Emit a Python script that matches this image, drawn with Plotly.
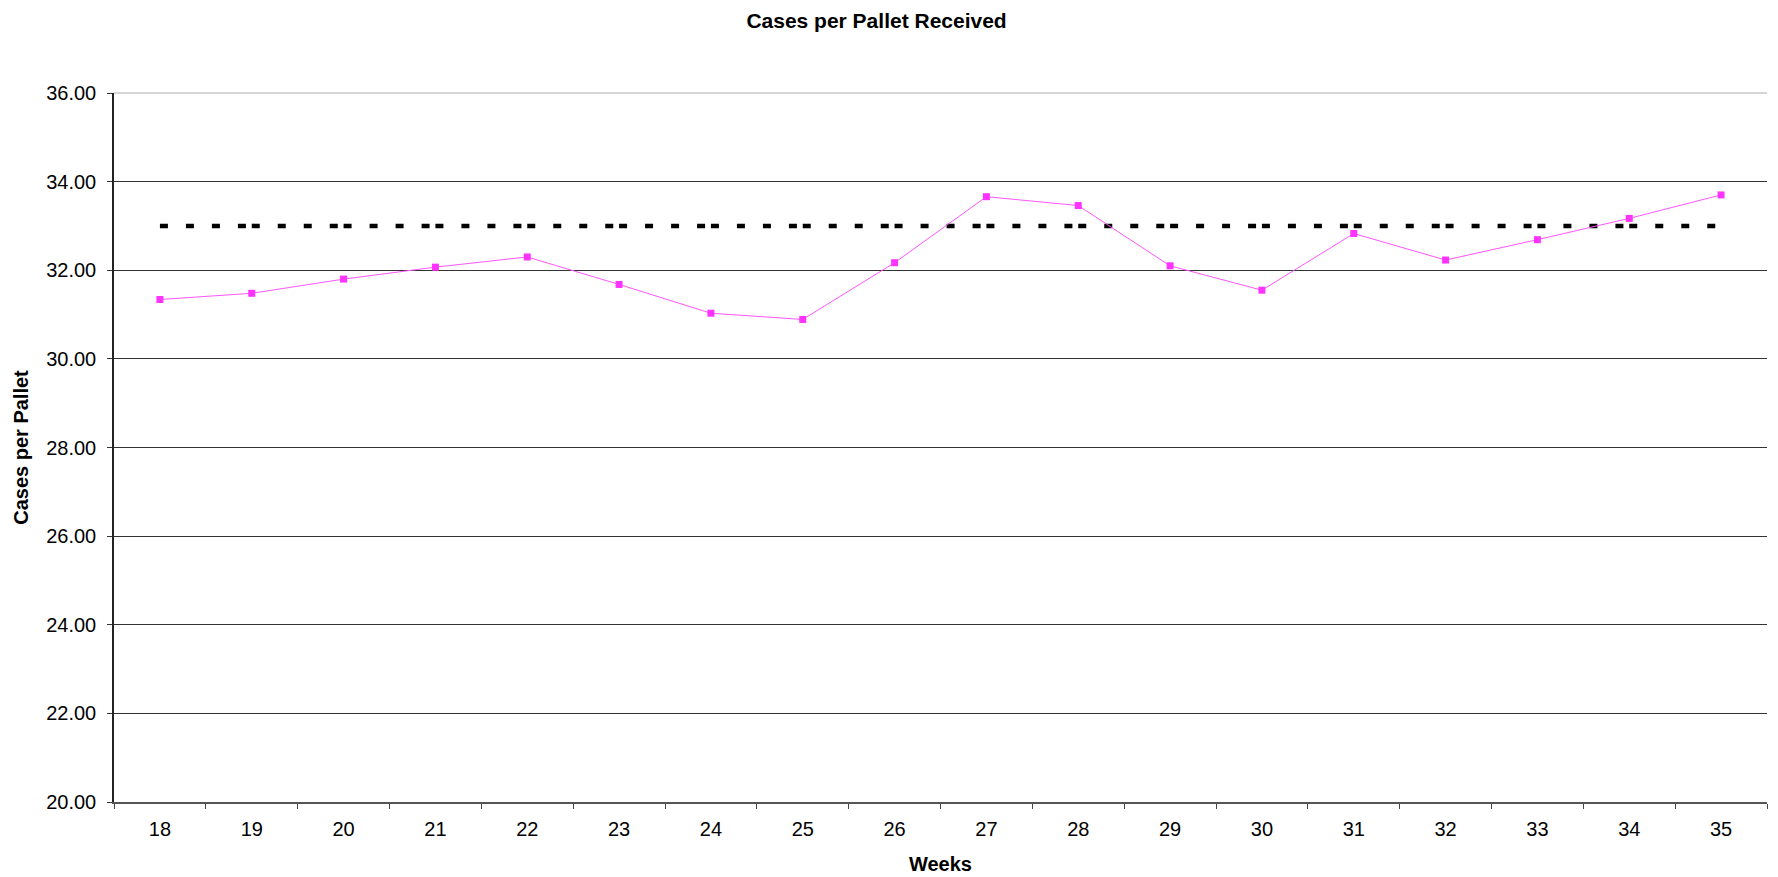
import plotly.graph_objects as go

weeks = ["18", "19", "20", "21", "22", "23", "24", "25", "26", "27", "28", "29", "30", "31", "32", "33", "34", "35"]
cases_per_pallet = [31.34, 31.48, 31.80, 32.07, 32.30, 31.68, 31.03, 30.89, 32.17, 33.66, 33.46, 32.10, 31.55, 32.83, 32.23, 32.69, 33.17, 33.70]
target = [33.0] * len(weeks)
y_ticks = [20, 22, 24, 26, 28, 30, 32, 34, 36]

FONT = "Liberation Sans, Arial, sans-serif"

fig = go.Figure()

# target line: dash pattern restarts at each segment (as in the original)
for i in range(len(weeks) - 1):
    fig.add_trace(go.Scatter(
        x=[weeks[i], weeks[i + 1]], y=[target[i], target[i + 1]],
        mode="lines", line=dict(color="black", width=4.5, dash="8px,18px"),
        showlegend=False, hoverinfo="skip"))

fig.add_trace(go.Scatter(
    x=weeks, y=cases_per_pallet, mode="lines+markers",
    line=dict(color="#FF55FF", width=1),
    marker=dict(symbol="square", size=7, color="#FF33FF", line=dict(width=0)),
    showlegend=False))

fig.update_layout(
    width=1778, height=877,
    margin=dict(l=114, r=11, t=93, b=75),
    paper_bgcolor="white", plot_bgcolor="white",
    font=dict(family=FONT, size=20, color="black"),
    title=dict(text="<b>Cases per Pallet Received</b>", x=0.493, xref="container",
               y=1 - 21 / 877, yref="container", yanchor="middle",
               font=dict(family=FONT, size=21, color="black")),
    shapes=[dict(type="line", xref="x domain", yref="y domain", x0=0, x1=1, y0=1, y1=1,
                 line=dict(color="#C8C8C8", width=1.5), layer="above")],
)

fig.update_xaxes(
    type="category", tickson="boundaries", ticks="outside", ticklen=5, tickcolor="#444",
    showline=True, linecolor="#555", linewidth=1.5, showgrid=False, zeroline=False,
    tickfont=dict(family=FONT, size=20), range=[-0.5, len(weeks) - 0.5],
    ticklabelstandoff=8, automargin=False,
    title=dict(text="<b>Weeks</b>", font=dict(family=FONT, size=20), standoff=18),
)
fig.update_yaxes(
    range=[20, 36], tickvals=y_ticks, ticktext=[f"{v:.2f}" for v in y_ticks],
    ticks="outside", ticklen=5, tickcolor="#333",
    showline=True, linecolor="#222", linewidth=1.5,
    showgrid=True, gridcolor="#333", gridwidth=1, zeroline=False,
    tickfont=dict(family=FONT, size=20), ticklabelstandoff=7, automargin=False,
    title=dict(text="<b>Cases per Pallet</b>", font=dict(family=FONT, size=20), standoff=12),
)

fig.write_html("out.html")
